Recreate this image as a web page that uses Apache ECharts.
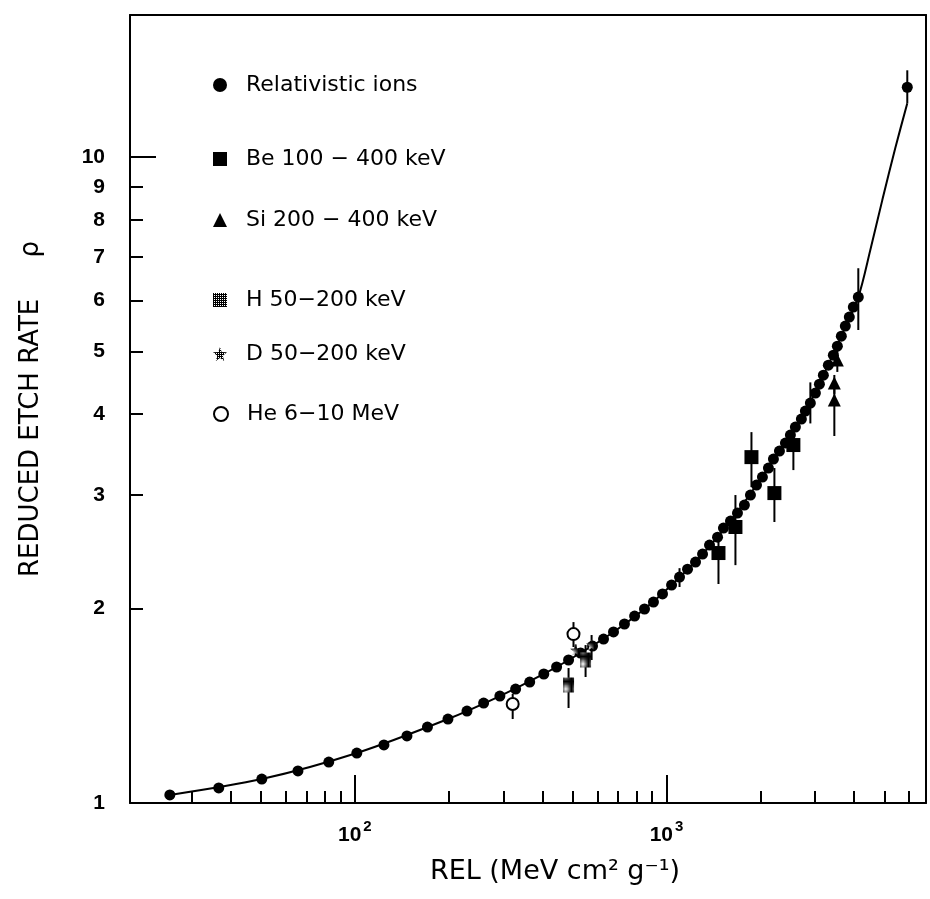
<!DOCTYPE html>
<html>
<head>
<meta charset="utf-8">
<script src="https://cdn.jsdelivr.net/npm/echarts@6/dist/echarts.min.js"></script>
<style>
  html, body { margin: 0; padding: 0; background: #fff; }
  #chart { width: 930px; height: 899px; }
</style>
</head>
<body>
<div id="chart"></div>
<script>
// relativistic ions (REL in MeV cm2/g, reduced etch rate p)
const ionRel = [25.5, 36.6, 50.3, 65.7, 82.5, 101.5, 124, 147, 171, 199, 229, 259, 292, 328, 364,
  404, 444, 485, 530, 579, 628, 676, 733, 790, 850, 908, 971, 1038, 1101, 1168, 1239, 1305, 1374,
  1458, 1523, 1604, 1689, 1778, 1859, 1944, 2031, 2123, 2203, 2303, 2407, 2497, 2591, 2708, 2789,
  2894, 3004, 3094, 3186, 3305, 3430, 3533, 3638, 3747, 3859, 3975, 4124, 5922];
const ionRate = [1.029, 1.055, 1.089, 1.121, 1.157, 1.195, 1.230, 1.270, 1.311, 1.349, 1.388, 1.428,
  1.464, 1.501, 1.539, 1.584, 1.624, 1.665, 1.707, 1.750, 1.794, 1.840, 1.893, 1.947, 1.997, 2.047,
  2.107, 2.175, 2.238, 2.302, 2.361, 2.429, 2.508, 2.580, 2.665, 2.732, 2.811, 2.893, 2.998, 3.107,
  3.197, 3.301, 3.408, 3.507, 3.608, 3.713, 3.820, 3.930, 4.044, 4.161, 4.312, 4.452, 4.597, 4.764,
  4.937, 5.098, 5.283, 5.475, 5.654, 5.859, 6.072, 12.83];
const ionBarRel = [1101, 2894, 4124, 5922];
const ionBarLow = [2.16, 3.87, 5.40, 12.12];
const ionBarHigh = [2.31, 4.48, 6.73, 13.63];

// fitted curve
const fitRel = [25.5, 50.3, 101.5, 199, 292, 404, 530, 676, 850, 1038, 1305, 1604, 1944, 2303, 2708,
  3186, 3638, 4124, 4507, 4924, 5420, 5922];
const fitRate = [1.029, 1.089, 1.195, 1.349, 1.464, 1.584, 1.707, 1.840, 1.997, 2.175, 2.429, 2.732,
  3.107, 3.507, 3.930, 4.597, 5.283, 6.072, 7.18, 8.58, 10.33, 12.12];

const beRel = [1468, 1664, 1873, 2219, 2553];
const beRate = [2.438, 2.675, 3.432, 3.019, 3.583];
const beLow = [2.183, 2.335, 3.084, 2.723, 3.277];
const beHigh = [2.55, 2.998, 3.752, 3.301, 3.713];

const siRel = [3532, 3455, 3455];
const siRate = [4.851, 4.469, 4.206];
const siLow = [4.65, 4.30, 3.70];
const siHigh = [5.05, 4.60, 4.47];

const hRel = [485, 550];
const hRate = [1.523, 1.665];
const hLow = [1.403, 1.567];
const hHigh = [1.618, 1.756];

const dRel = [511, 575];
const dRate = [1.725, 1.757];
const dLow = [1.69, 1.665];
const dHigh = [1.76, 1.82];

const heRel = [321, 503];
const heRate = [1.423, 1.826];
const heLow = [1.349, 1.744];
const heHigh = [1.475, 1.906];

const seriesNames = ['Relativistic ions', 'Be 100 \u2212 400 keV', 'Si 200 \u2212 400 keV',
  'H 50\u2212200 keV', 'D 50\u2212200 keV', 'He 6\u221210 MeV'];

const xMajor = [100, 1000];
const xMinor = [30, 40, 50, 60, 70, 80, 90, 200, 300, 400, 500, 600, 700, 800, 900,
  2000, 3000, 4000, 5000, 6000];
const yLabels = [1, 2, 3, 4, 5, 6, 7, 8, 9, 10];
const yMinor = [2, 3, 4, 5, 6, 7, 8, 9];

const X_MIN = 19, X_MAX = 6800, Y_MIN = 1, Y_MAX = 16.6;

// dark checker pattern for the hatched markers
const hatch = document.createElement('canvas');
hatch.width = 2; hatch.height = 2;
const hc = hatch.getContext('2d');
hc.fillStyle = '#000'; hc.fillRect(0, 0, 2, 2);
hc.fillStyle = '#fff'; hc.fillRect(1, 0, 1, 1);
const hatchFill = { image: hatch, repeat: 'repeat' };

const pair = (xs, ys) => xs.map((x, i) => [x, ys[i]]);
const bars = (xs, lo, hi) => xs.map((x, i) => [x, lo[i], hi[i]]);

const errData = [].concat(
  bars(ionBarRel, ionBarLow, ionBarHigh), bars(beRel, beLow, beHigh), bars(siRel, siLow, siHigh),
  bars(hRel, hLow, hHigh), bars(dRel, dLow, dHigh), bars(heRel, heLow, heHigh));

const FONT = 'DejaVu Sans';
const logAxis = (extra) => Object.assign({
  type: 'log', logBase: 10, splitLine: { show: false },
  axisLine: { show: false }, axisTick: { show: false }, axisLabel: { show: false }
}, extra);

const legendTops = [69, 143, 204, 284, 338, 398];

const option = {
  animation: false,
  backgroundColor: '#fff',
  grid: { left: 130, right: 4, top: 15, bottom: 96, containLabel: false, outerBoundsMode: 'none' },
  xAxis: [
    logAxis({
      min: X_MIN, max: X_MAX, position: 'bottom',
      axisLine: { show: true, lineStyle: { color: '#000', width: 2 } },
      axisTick: { show: true, inside: true, length: 28, customValues: xMajor,
        lineStyle: { color: '#000', width: 2 } },
      axisLabel: {
        show: true, customValues: xMajor, margin: 16,
        formatter: v => '{b|10}{s|' + Math.round(Math.log10(v)) + '}',
        rich: {
          b: { fontFamily: 'Liberation Sans', fontWeight: 'bold', fontSize: 21, color: '#000', lineHeight: 32 },
          s: { fontFamily: 'Liberation Sans', fontWeight: 'bold', fontSize: 15, color: '#000', verticalAlign: 'top', padding: [0, 0, 0, 2] }
        }
      },
      name: 'REL (MeV cm\u00B2 g\u207B\u00B9)', nameLocation: 'middle', nameGap: 55,
      nameTextStyle: { fontFamily: FONT, fontSize: 27, color: '#000', padding: [0, 0, 0, 54] }
    }),
    logAxis({
      min: X_MIN, max: X_MAX, position: 'bottom',
      axisTick: { show: true, inside: true, length: 12, customValues: xMinor,
        lineStyle: { color: '#000', width: 2 } }
    }),
    logAxis({
      min: X_MIN, max: X_MAX, position: 'top',
      axisLine: { show: true, lineStyle: { color: '#000', width: 2 } }
    })
  ],
  yAxis: [
    logAxis({
      min: Y_MIN, max: Y_MAX, position: 'left',
      axisLine: { show: true, lineStyle: { color: '#000', width: 2 } },
      axisTick: { show: true, inside: true, length: 26, customValues: [10],
        lineStyle: { color: '#000', width: 2 } },
      axisLabel: {
        show: true, customValues: yLabels, margin: 25,
        fontFamily: 'Liberation Sans', fontWeight: 'bold', fontSize: 21, color: '#000'
      },
      name: 'REDUCED ETCH RATE     \u03C1', nameLocation: 'middle', nameGap: 86, nameRotate: 90,
      nameTextStyle: { fontFamily: FONT, fontSize: 26, color: '#000' }
    }),
    logAxis({
      min: Y_MIN, max: Y_MAX, position: 'left',
      axisTick: { show: true, inside: true, length: 13, customValues: yMinor,
        lineStyle: { color: '#000', width: 2 } }
    }),
    logAxis({
      min: Y_MIN, max: Y_MAX, position: 'right',
      axisLine: { show: true, lineStyle: { color: '#000', width: 2 } }
    })
  ],
  legend: seriesNames.map((name, i) => ({
    data: [name], left: 208, top: legendTops[i], orient: 'vertical',
    itemWidth: 14, itemHeight: 14,
    textStyle: { fontFamily: FONT, fontSize: 22, color: '#000', lineHeight: 22, padding: [0, 0, 0, 14] },
    selectedMode: false
  })),
  series: [
    {
      name: 'fit', type: 'line', data: pair(fitRel, fitRate), smooth: 0.3,
      showSymbol: false, symbol: 'none', z: 1,
      lineStyle: { color: '#000', width: 2 }
    },
    {
      name: 'errors', type: 'custom', data: errData, z: 2,
      encode: { x: 0, y: [1, 2] },
      renderItem: (params, api) => {
        const p1 = api.coord([api.value(0), api.value(1)]);
        const p2 = api.coord([api.value(0), api.value(2)]);
        return { type: 'line', shape: { x1: p1[0], y1: p1[1], x2: p2[0], y2: p2[1] },
          style: { stroke: '#000', lineWidth: 2 } };
      }
    },
    { name: seriesNames[0], type: 'scatter', data: pair(ionRel, ionRate), symbol: 'circle',
      symbolSize: 11, z: 3, itemStyle: { color: '#000', opacity: 1 } },
    { name: seriesNames[1], type: 'scatter', data: pair(beRel, beRate), symbol: 'rect',
      symbolSize: 14, z: 4, itemStyle: { color: '#000', opacity: 1 } },
    { name: seriesNames[2], type: 'scatter', data: pair(siRel, siRate), symbol: 'triangle',
      symbolSize: 13, z: 4, itemStyle: { color: '#000', opacity: 1 } },
    { name: seriesNames[3], type: 'scatter', data: pair(hRel, hRate), symbol: 'rect',
      symbolSize: [11, 15], z: 4, itemStyle: { color: hatchFill, opacity: 1 } },
    { name: seriesNames[4], type: 'scatter', data: pair(dRel, dRate),
      symbol: 'path://M5 0 L6.2 3.5 L10 3.8 L7 6.2 L8 10 L5 7.8 L2 10 L3 6.2 L0 3.8 L3.8 3.5 Z',
      symbolSize: 11, z: 4, itemStyle: { color: hatchFill, opacity: 1 } },
    { name: seriesNames[5], type: 'scatter', data: pair(heRel, heRate), symbol: 'circle',
      symbolSize: 12, z: 4, itemStyle: { color: '#fff', borderColor: '#000', borderWidth: 2, opacity: 1 } }
  ]
};

const chart = echarts.init(document.getElementById('chart'));
chart.setOption(option);
</script>
</body>
</html>
